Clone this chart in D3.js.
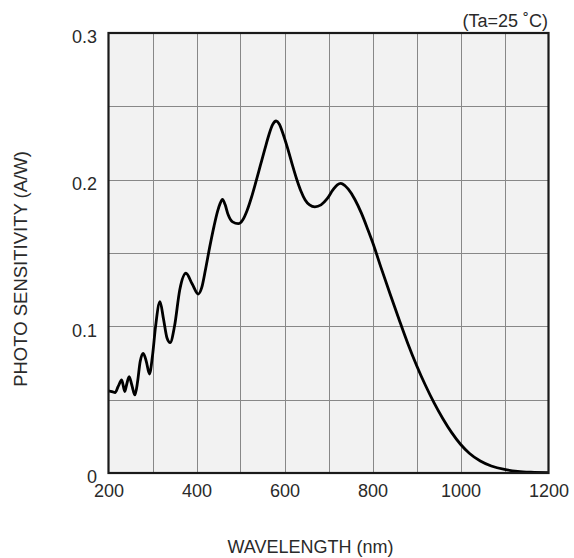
<!DOCTYPE html>
<html>
<head>
<meta charset="utf-8">
<script src="https://cdn.jsdelivr.net/npm/d3@7"></script>
<style>
  html, body { margin: 0; padding: 0; background: #fff; }
  svg { display: block; font-family: "Liberation Sans", Arial, Helvetica, sans-serif; }
</style>
</head>
<body>
<svg id="chart" width="574" height="558"></svg>
<script>
// Spectral response of the photodiode (Ta = 25 °C)
const wavelength = [200, 208, 215, 222, 230, 237, 241, 247, 253, 260, 266, 272, 279, 286, 293, 300, 307, 317, 325, 333,
  340, 350, 362, 376, 390, 404, 412, 420, 430, 440, 448, 454, 459, 465, 472, 482, 495, 505, 515, 525,
  535, 545, 555, 565, 573, 581, 588, 597, 607, 617, 627, 637, 647, 657, 669, 683, 697, 710, 720, 728,
  737, 745, 760, 775, 790, 800, 820, 840, 860, 880, 900, 920, 940, 960, 980, 1000, 1020, 1045, 1070, 1100,
  1130, 1160, 1200];
const sensitivity = [0.0560, 0.0555, 0.0548, 0.0590, 0.0634, 0.0555, 0.0600, 0.0657, 0.0600, 0.0532, 0.0620, 0.0760, 0.0816, 0.0760, 0.0675, 0.0800, 0.1000, 0.1168, 0.1050, 0.0920,
  0.0889, 0.1000, 0.1250, 0.1362, 0.1290, 0.1220, 0.1265, 0.1380, 0.1540, 0.1685, 0.1785, 0.1840, 0.1865, 0.1830, 0.1760, 0.1712, 0.1700, 0.1725, 0.1790, 0.1880,
  0.1985, 0.2095, 0.2205, 0.2310, 0.2375, 0.2400, 0.2380, 0.2310, 0.2215, 0.2110, 0.2010, 0.1925, 0.1862, 0.1828, 0.1815, 0.1828, 0.1870, 0.1930, 0.1965, 0.1975,
  0.1960, 0.1935, 0.1865, 0.1770, 0.1655, 0.1575, 0.1395, 0.1220, 0.1050, 0.0885, 0.0735, 0.0600, 0.0478, 0.0370, 0.0275, 0.0196, 0.0135, 0.0082, 0.0048, 0.0024,
  0.0011, 0.0005, 0.0002];

const xTickLabels = [200, 400, 600, 800, 1000, 1200];
const yTickLabels = [0, 0.1, 0.2, 0.3];
const xGrid = [300, 400, 500, 600, 700, 800, 900, 1000, 1100];
const yGrid = [0.05, 0.1, 0.15, 0.2, 0.25];

const svg = d3.select("#chart");
const plotLeft = 108.5, plotRight = 548.5, plotTop = 33, plotBottom = 473;

const x = d3.scaleLinear().domain([200, 1200]).range([plotLeft, plotRight]);
const y = d3.scaleLinear().domain([0, 0.3]).range([plotBottom, plotTop]);

// plot background
svg.append("rect")
  .attr("x", plotLeft).attr("y", plotTop)
  .attr("width", plotRight - plotLeft).attr("height", plotBottom - plotTop)
  .attr("fill", "#f2f2f2");

// grid
const grid = svg.append("g").attr("stroke", "#888").attr("stroke-width", 1);
grid.selectAll("line.v").data(xGrid).join("line")
  .attr("class", "v")
  .attr("x1", d => Math.round(x(d)) + 0.5).attr("x2", d => Math.round(x(d)) + 0.5)
  .attr("y1", plotTop).attr("y2", plotBottom);
grid.selectAll("line.h").data(yGrid).join("line")
  .attr("class", "h")
  .attr("y1", d => Math.round(y(d)) + 0.5).attr("y2", d => Math.round(y(d)) + 0.5)
  .attr("x1", plotLeft).attr("x2", plotRight);

// axes (labels only; frame drawn separately)
const xAxis = svg.append("g")
  .attr("transform", `translate(0,${plotBottom})`)
  .call(d3.axisBottom(x).tickValues(xTickLabels).tickSize(0).tickPadding(11.5).tickFormat(d3.format("d")));
const yAxis = svg.append("g")
  .attr("transform", `translate(${plotLeft},0)`)
  .call(d3.axisLeft(y).tickValues(yTickLabels).tickSize(0).tickPadding(11.5).tickFormat(d => d === 0 ? "0" : d3.format(".1f")(d)));
[xAxis, yAxis].forEach(g => {
  g.select(".domain").remove();
  g.selectAll("text")
    .attr("fill", "#2a2a2a")
    .style("font-size", "18px")
    .style("font-family", "'Liberation Sans', Arial, sans-serif");
});
yAxis.selectAll("text").attr("dy", "0.55em");

// response curve
const line = d3.line()
  .x((d, i) => x(wavelength[i]))
  .y(d => y(d))
  .curve(d3.curveMonotoneX);
svg.append("path")
  .datum(sensitivity)
  .attr("fill", "none")
  .attr("stroke", "#000")
  .attr("stroke-width", 2.8)
  .attr("stroke-linejoin", "round")
  .attr("d", line);

// frame
svg.append("rect")
  .attr("x", plotLeft).attr("y", plotTop)
  .attr("width", plotRight - plotLeft).attr("height", plotBottom - plotTop)
  .attr("fill", "none")
  .attr("stroke", "#1a1a1a")
  .attr("stroke-width", 2.2);

// titles
svg.append("text")
  .attr("x", 548).attr("y", 26.5)
  .attr("text-anchor", "end")
  .attr("fill", "#2a2a2a")
  .style("font-size", "18px")
  .text("(Ta=25 ˚C)");

svg.append("text")
  .attr("x", 310.5).attr("y", 553)
  .attr("text-anchor", "middle")
  .attr("fill", "#2a2a2a")
  .style("font-size", "18px")
  .text("WAVELENGTH (nm)");

svg.append("text")
  .attr("transform", "translate(27,269) rotate(-90)")
  .attr("text-anchor", "middle")
  .attr("fill", "#2a2a2a")
  .style("font-size", "18.5px")
  .text("PHOTO SENSITIVITY (A/W)");
</script>
</body>
</html>
